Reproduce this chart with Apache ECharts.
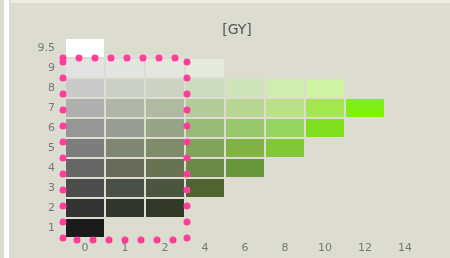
<!DOCTYPE html>
<html>
<head>
<meta charset="utf-8">
<script src="https://cdn.jsdelivr.net/npm/echarts@6/dist/echarts.min.js"></script>
<style>
  html, body { margin: 0; padding: 0; background: #dddcd1; }
  #chart { width: 450px; height: 258px; }
</style>
</head>
<body>
<div id="chart"></div>
<script>
    // chroma (x) and value (y) categories
    const chromaCats = ['0', '1', '2', '4', '6', '8', '10', '12', '14'];
    const valueCats = ['1', '2', '3', '4', '5', '6', '7', '8', '9', '9.5'];

    // chip colours per value row, one entry per chroma from 0 upward
    const row1 = ['#1b1b1b'];
    const row2 = ['#333333', '#33362e', '#333928'];
    const row3 = ['#4c4c4c', '#4a5047', '#4c553f', '#4f6432'];
    const row4 = ['#666666', '#67695a', '#687353', '#6a8846', '#68963c'];
    const row5 = ['#7d7d7d', '#7f8674', '#7f8c6c', '#80a45a', '#82b244', '#80c838'];
    const row6 = ['#969696', '#979d92', '#98a488', '#9abb77', '#97c86c', '#98d460', '#80e020'];
    const row7 = ['#afafaf', '#b0b5aa', '#b0baa0', '#b2cb98', '#b8d694', '#bae088', '#a3e64e', '#80f014'];
    const row8 = ['#cacaca', '#cbcec6', '#ccd3c3', '#cddcbe', '#d0e4bc', '#d0ecb0', '#d0f2a4'];
    const row9 = ['#e3e3e3', '#e3e5e0', '#e4e7e0', '#e6ebdd'];
    const row9_5 = ['#ffffff'];
    const rows = [row1, row2, row3, row4, row5, row6, row7, row8, row9, row9_5];

    // highlighted block: chroma 0..2, value 1..9
    const highlight = [['0', '1', '2', '9']];

    const chips = [];
    rows.forEach((row, yi) => {
        row.forEach((color, xi) => {
            chips.push({ value: [xi, yi], itemStyle: { color: color } });
        });
    });

    const chart = echarts.init(document.getElementById('chart'));
    chart.setOption({
        backgroundColor: '#dddcd1',
        animation: false,
        title: {
            text: '[GY]',
            left: 232,
            top: 18,
            textAlign: 'center',
            textStyle: { color: '#555', fontSize: 14, fontWeight: 'normal', fontFamily: 'DejaVu Sans' }
        },
        graphic: [
            { type: 'rect', shape: { x: 4, y: 0, width: 5, height: 258 }, style: { fill: '#ffffff' }, silent: true },
            { type: 'rect', shape: { x: 11, y: 0, width: 439, height: 3 }, style: { fill: '#ebebe4' }, silent: true }
        ],
        grid: { left: 65, right: 25, top: 38, bottom: 20 },
        xAxis: {
            type: 'category',
            data: chromaCats,
            axisLine: { show: false },
            axisTick: { show: false },
            splitLine: { show: false },
            axisLabel: { color: '#777', fontSize: 11, margin: 5, fontFamily: 'DejaVu Sans' }
        },
        yAxis: {
            type: 'category',
            data: valueCats,
            axisLine: { show: false },
            axisTick: { show: false },
            splitLine: { show: false },
            axisLabel: { color: '#777', fontSize: 11, margin: 10, fontFamily: 'DejaVu Sans' }
        },
        series: [{
            type: 'custom',
            data: chips,
            renderItem: (params, api) => {
                const p = api.coord([api.value(0), api.value(1)]);
                const s = api.size([1, 1]);
                return {
                    type: 'rect',
                    shape: { x: p[0] - s[0] / 2 + 1, y: p[1] - s[1] / 2 + 1, width: s[0] - 2, height: s[1] - 2 },
                    style: { fill: api.visual('color') }
                };
            }
        }, {
            type: 'custom',
            z: 5,
            data: highlight.map(h => [chromaCats.indexOf(h[0]), valueCats.indexOf(h[1]),
                chromaCats.indexOf(h[2]), valueCats.indexOf(h[3])]),
            renderItem: (params, api) => {
                const a = api.coord([api.value(0), api.value(1)]);
                const b = api.coord([api.value(2), api.value(3)]);
                const s = api.size([1, 1]);
                const x1 = a[0] - s[0] / 2 - 2;
                const y2 = a[1] + s[1] / 2 + 2;
                const x2 = b[0] + s[0] / 2 + 2;
                const y1 = b[1] - s[1] / 2;
                return {
                    type: 'rect',
                    shape: { x: x1, y: y1, width: x2 - x1, height: y2 - y1 },
                    style: {
                        fill: null,
                        stroke: '#ff3d98',
                        lineWidth: 7,
                        lineDash: [0, 16],
                        lineCap: 'round'
                    }
                };
            }
        }]
    });
</script>
</body>
</html>
